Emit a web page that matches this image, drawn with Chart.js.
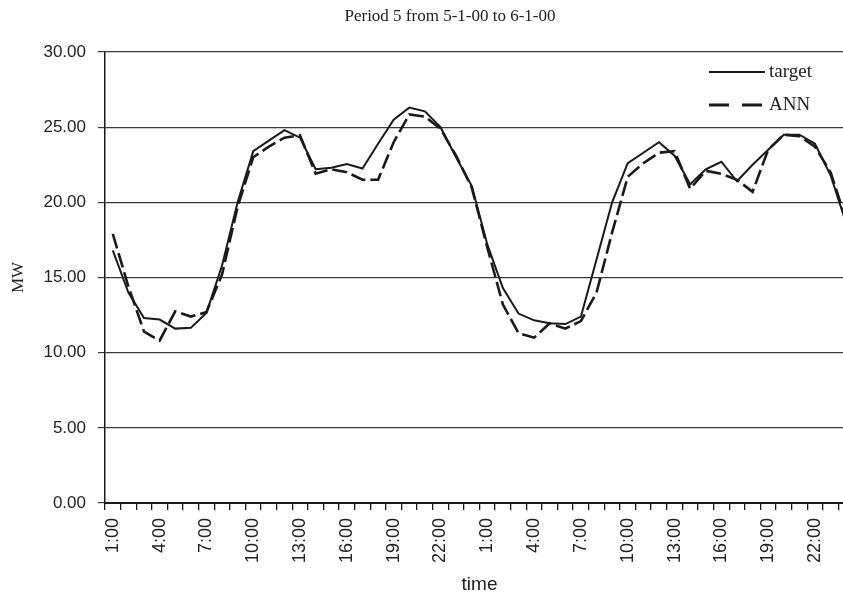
<!DOCTYPE html>
<html>
<head>
<meta charset="utf-8">
<title>Period 5 load: target vs ANN</title>
<script src="https://cdn.jsdelivr.net/npm/chart.js@4.4.1/dist/chart.umd.min.js"></script>
<style>
  html, body { margin: 0; padding: 0; background: #fff; overflow: hidden; }
  #wrap { position: relative; width: 843px; height: 597px; overflow: hidden; }
  canvas { display: block; }
</style>
</head>
<body>
<!-- the plot runs on past the right edge of the frame; the canvas is a little wider than the view -->
<div id="wrap"><canvas id="chart" width="854" height="597"></canvas></div>
<script>
// Hourly categories over two consecutive days
const hourLabels = [
  '1:00','2:00','3:00','4:00','5:00','6:00','7:00','8:00','9:00','10:00','11:00','12:00',
  '13:00','14:00','15:00','16:00','17:00','18:00','19:00','20:00','21:00','22:00','23:00','24:00',
  '1:00','2:00','3:00','4:00','5:00','6:00','7:00','8:00','9:00','10:00','11:00','12:00',
  '13:00','14:00','15:00','16:00','17:00','18:00','19:00','20:00','21:00','22:00','23:00','24:00'
];

// Measured load (MW)
const targetMW = [
  16.8, 14.0, 12.3, 12.2, 11.6, 11.65, 12.65, 15.8, 20.0, 23.4, 24.1, 24.8,
  24.3, 22.2, 22.3, 22.55, 22.25, 23.9, 25.5, 26.3, 26.05, 25.0, 23.0, 21.1,
  17.2, 14.3, 12.6, 12.15, 11.95, 11.9, 12.4, 16.2, 20.0, 22.6, 23.3, 24.0,
  23.1, 21.2, 22.2, 22.7, 21.4, 22.5, 23.5, 24.5, 24.5, 23.9, 21.8, 18.6
];

// Neural network forecast (MW)
const annMW = [
  17.9, 14.4, 11.4, 10.8, 12.75, 12.4, 12.7, 15.2, 19.7, 23.0, 23.7, 24.3,
  24.45, 21.9, 22.2, 22.0, 21.5, 21.5, 24.0, 25.85, 25.7, 24.9, 23.1, 21.0,
  17.0, 13.2, 11.3, 11.0, 11.95, 11.6, 12.1, 14.0, 18.0, 21.7, 22.6, 23.3,
  23.4, 20.9, 22.1, 21.9, 21.5, 20.7, 23.5, 24.5, 24.4, 23.7, 22.0, 18.8
];

const yTickValues = [0, 5, 10, 15, 20, 25, 30];
const chartTitle = 'Period 5 from 5-1-00 to 6-1-00';

const SERIF = '"Liberation Serif", "Times New Roman", serif';
const SANS = '"Liberation Sans", Arial, sans-serif';
const INK = '#1a1a1a';

// Title centred over the figure
const titlePlugin = {
  id: 'periodTitle',
  afterDraw(chart) {
    const ctx = chart.ctx;
    ctx.save();
    ctx.font = '17px ' + SERIF;
    ctx.fillStyle = '#222';
    ctx.textAlign = 'center';
    ctx.textBaseline = 'middle';
    ctx.fillText(chartTitle, 450, 17);
    ctx.restore();
  }
};

// Legend placed inside the plot, upper right
const legendPlugin = {
  id: 'insetLegend',
  afterDraw(chart) {
    const ctx = chart.ctx;
    const rows = [72, 105];
    ctx.save();
    chart.data.datasets.forEach((ds, i) => {
      const y = rows[i];
      ctx.beginPath();
      ctx.strokeStyle = ds.borderColor;
      ctx.lineWidth = ds.legendWidth;
      ctx.setLineDash(ds.legendDash);
      ctx.moveTo(709, y);
      ctx.lineTo(765, y);
      ctx.stroke();
      ctx.setLineDash([]);
      ctx.font = '19px ' + SERIF;
      ctx.fillStyle = '#222';
      ctx.textAlign = 'left';
      ctx.textBaseline = 'middle';
      ctx.fillText(ds.label, 769, y);
    });
    ctx.restore();
  }
};

new Chart(document.getElementById('chart'), {
  type: 'line',
  data: {
    labels: hourLabels,
    datasets: [
      {
        label: 'target',
        data: targetMW,
        borderColor: INK,
        borderWidth: 2,
        pointRadius: 0,
        tension: 0,
        legendDash: [],
        legendWidth: 2
      },
      {
        label: 'ANN',
        data: annMW,
        borderColor: INK,
        borderWidth: 2.6,
        borderDash: [15, 5],
        pointRadius: 0,
        tension: 0,
        legendDash: [20, 13],
        legendWidth: 3
      }
    ]
  },
  options: {
    responsive: false,
    animation: false,
    devicePixelRatio: 1,
    layout: { padding: { left: 0, right: 0, top: 52, bottom: 0 } },
    plugins: {
      legend: { display: false },
      title: { display: false },
      tooltip: { enabled: false }
    },
    scales: {
      x: {
        type: 'category',
        offset: true,
        afterFit(scale) {
          scale.height = 94;
          scale.paddingLeft = 0;
          scale.paddingRight = 0;
        },
        grid: {
          offset: true,
          drawOnChartArea: false,
          drawTicks: true,
          tickLength: 7,
          color: INK,
          lineWidth: 1.3
        },
        border: { display: true, color: INK, width: 2 },
        ticks: {
          autoSkip: false,
          minRotation: 90,
          maxRotation: 90,
          padding: 8,
          color: '#222',
          font: { family: SANS, size: 18 },
          callback(value, index) {
            return index % 3 === 0 ? hourLabels[index] : '';
          }
        },
        title: {
          display: true,
          text: 'time',
          color: '#222',
          font: { family: SANS, size: 19 },
          padding: { top: 0, bottom: 1 }
        }
      },
      y: {
        min: yTickValues[0],
        max: yTickValues[yTickValues.length - 1],
        afterFit(scale) { scale.width = 105; },
        afterBuildTicks(scale) {
          scale.ticks = yTickValues.map(v => ({ value: v }));
        },
        grid: {
          drawOnChartArea: true,
          drawTicks: true,
          tickLength: 7,
          color: '#3a3a3a',
          lineWidth: 1.2
        },
        border: { display: true, color: INK, width: 1.5 },
        ticks: {
          padding: 12,
          color: '#222',
          font: { family: SANS, size: 17 },
          callback(value) { return Number(value).toFixed(2); }
        },
        title: {
          display: true,
          text: 'MW',
          color: '#222',
          font: { family: SERIF, size: 17 },
          padding: { top: 8, bottom: 0 }
        }
      }
    }
  },
  plugins: [titlePlugin, legendPlugin]
});
</script>
</body>
</html>
